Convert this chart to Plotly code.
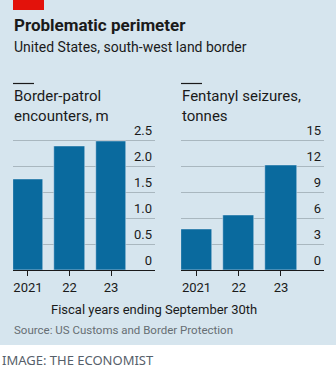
import plotly.graph_objects as go

W, H = 336, 372

years = ["2021", "22", "23"]
encounters = [1.74, 2.39, 2.48]          # millions
fentanyl = [4.7, 6.35, 12.1]             # tonnes
enc_ticks = [0, 0.5, 1.0, 1.5, 2.0, 2.5]
enc_ticktext = ["0", "0.5", "1.0", "1.5", "2.0", "2.5"]
fen_ticks = [0, 3, 6, 9, 12, 15]
fen_ticktext = ["0", "3", "6", "9", "12", "15"]

BG = "#d6e5ee"
BAR = "#0a6a9e"
GRID = "#a9b7bf"
INK = "#1a1a1a"
FONT = "Roboto"

def px(x):
    return x / W

def py(y):
    return 1 - y / H

xpos = [0, 1, 2]

fig = go.Figure()
fig.add_trace(go.Bar(x=xpos, y=encounters, marker_color=BAR, width=0.74,
                     xaxis="x", yaxis="y", showlegend=False, hoverinfo="skip"))
fig.add_trace(go.Bar(x=xpos, y=fentanyl, marker_color=BAR, width=0.74,
                     xaxis="x2", yaxis="y2", showlegend=False, hoverinfo="skip"))

# 0 baseline at y=270px, top gridline at y=140px; extend range above for labels
plot_bot = 270
unit_px = 130.0
extra = 0.16  # fraction of full range added above the top gridline
plot_top = 140 - unit_px * extra

xcommon = dict(
    tickmode="array", tickvals=xpos, ticktext=years,
    showline=True, linecolor=INK, linewidth=1,
    ticks="outside", ticklen=5, tickcolor=INK, tickwidth=1,
    showgrid=False, zeroline=False, fixedrange=True,
    tickfont=dict(family=FONT, size=13, color=INK),
)
ycommon = dict(
    side="right", ticklabelposition="inside top",
    showgrid=True, gridcolor=GRID, gridwidth=1, zeroline=False,
    showline=False, ticks="", fixedrange=True,
    tickfont=dict(family=FONT, size=13, color=INK),
)

fig.update_layout(
    width=W, height=H,
    margin=dict(l=0, r=0, t=0, b=0),
    paper_bgcolor="white", plot_bgcolor="rgba(0,0,0,0)",
    bargap=0,
    xaxis=dict(domain=[px(13), px(155)], range=[-0.361, 3.06], anchor="y", **xcommon),
    yaxis=dict(domain=[py(plot_bot), py(plot_top)], range=[0, 2.5 * (1 + extra)], anchor="x",
               tickvals=enc_ticks, ticktext=enc_ticktext, **ycommon),
    xaxis2=dict(domain=[px(181), px(324)], range=[-0.367, 3.02], anchor="y2", **xcommon),
    yaxis2=dict(domain=[py(plot_bot), py(plot_top)], range=[0, 15 * (1 + extra)], anchor="x2",
                tickvals=fen_ticks, ticktext=fen_ticktext, **ycommon),
)

shapes = [
    dict(type="rect", xref="paper", yref="paper", x0=0, x1=1, y0=py(345), y1=1,
         fillcolor=BG, line=dict(width=0), layer="below"),
    dict(type="rect", xref="paper", yref="paper", x0=px(13), x1=px(44), y0=py(10), y1=1,
         fillcolor="#e3120b", line=dict(width=0)),
    dict(type="line", xref="paper", yref="paper", x0=px(13), x1=px(34), y0=py(83.5), y1=py(83.5),
         line=dict(color=INK, width=1.2)),
    dict(type="line", xref="paper", yref="paper", x0=px(181), x1=px(202), y0=py(83.5), y1=py(83.5),
         line=dict(color=INK, width=1.2)),
]
fig.update_layout(shapes=shapes)

def ann(text, x, y, size, color=INK, xanchor="left", align="left", family=FONT):
    fig.add_annotation(text=text, xref="paper", yref="paper", x=px(x), y=py(y),
                       xanchor=xanchor, yanchor="middle", showarrow=False, align=align,
                       font=dict(family=family, size=size, color=color))

ann("<b>Problematic perimeter</b>", 12, 25, 17)
ann("United States, south-west land border", 12, 47, 14)
ann("Border-patrol<br>encounters, m", 12, 106, 15)
ann("Fentanyl seizures,<br>tonnes", 180, 106, 15)
ann("Fiscal years ending September 30th", 154, 309, 13, xanchor="center")
ann("Source: US Customs and Border Protection", 12, 330, 11.5, color="#666e73")
ann("IMAGE: THE ECONOMIST", 0, 360, 13, color="#56606a", family="Noto Sans")

fig.write_html("out.html")
